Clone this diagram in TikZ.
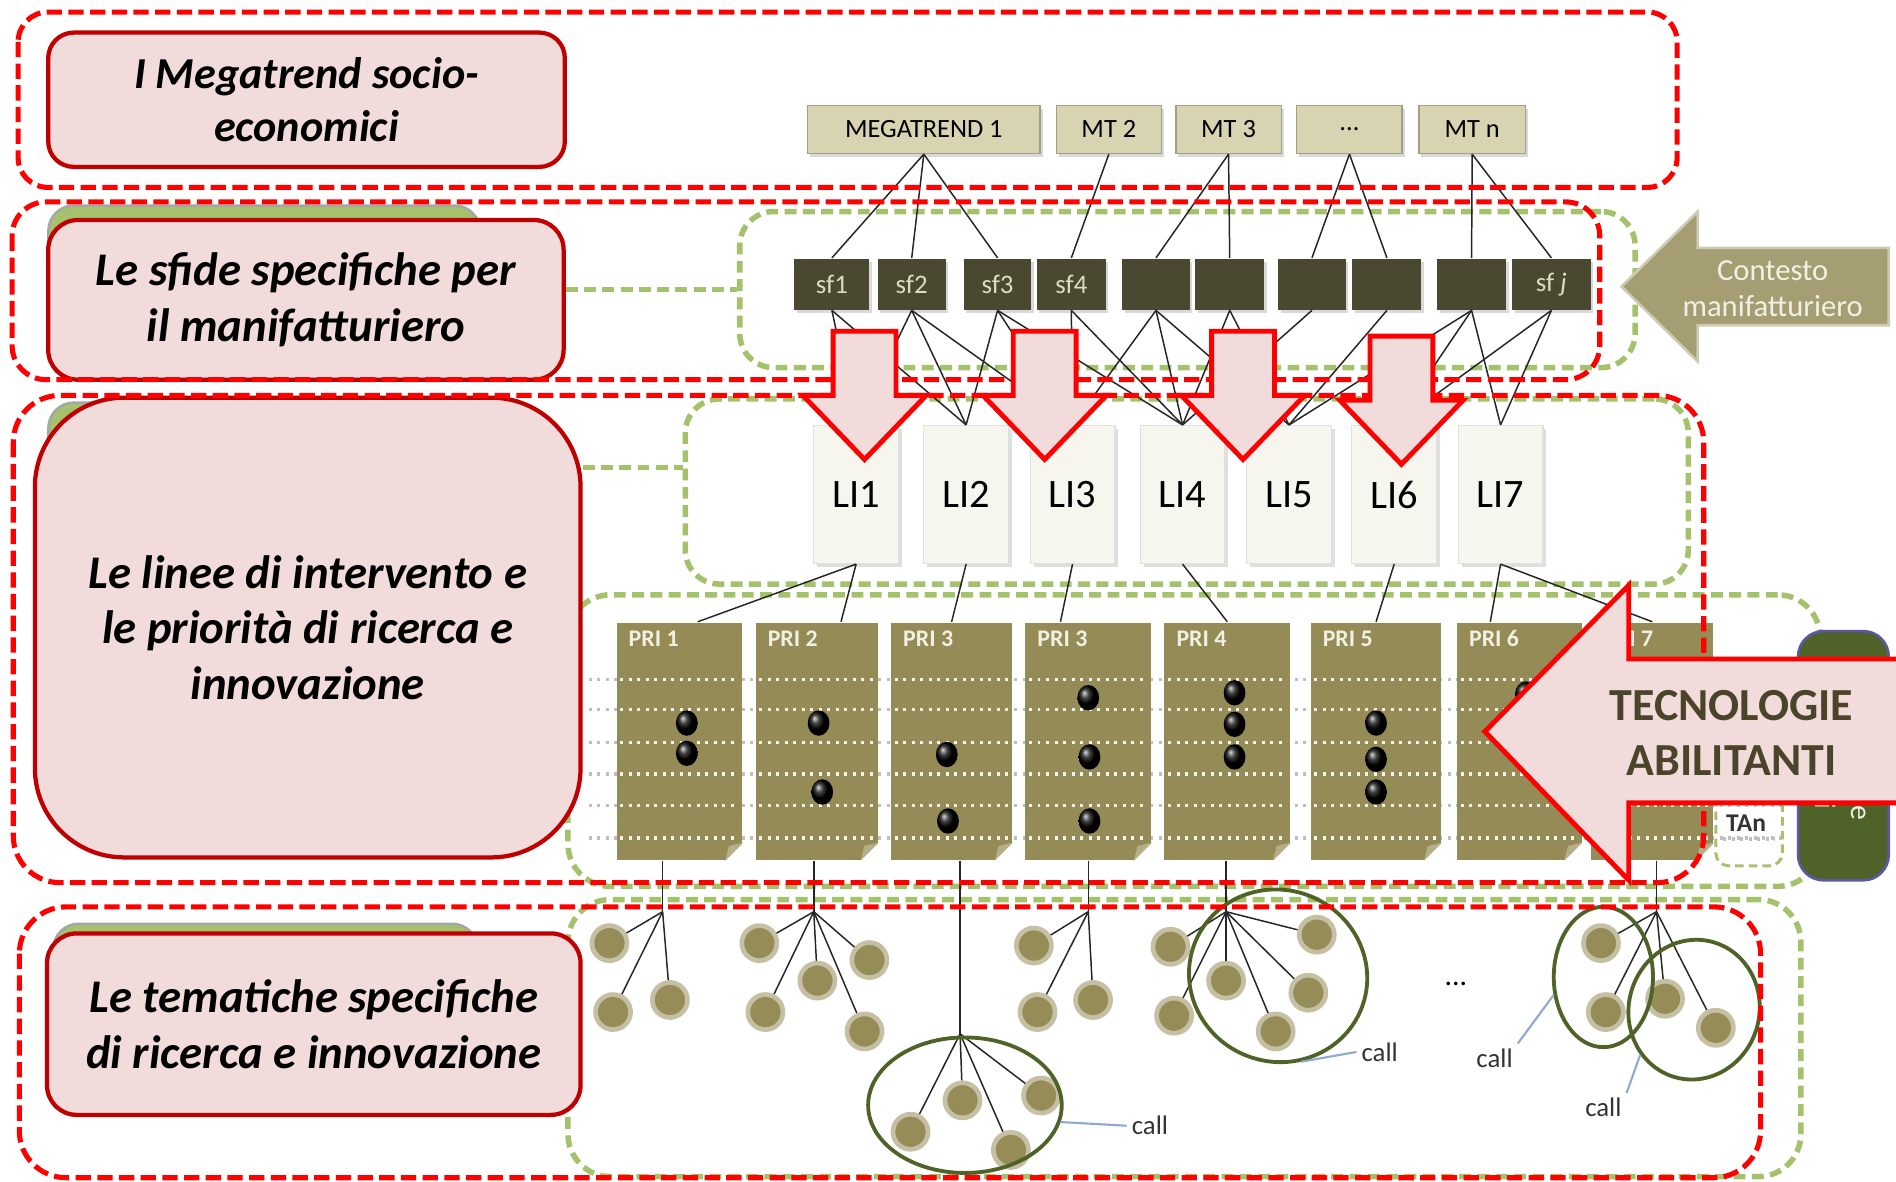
\documentclass[tikz,border=0pt]{standalone}
\usepackage{fontspec}
\setmainfont{Carlito}
\usepackage{tikz}
\usetikzlibrary{shapes.geometric, shadows}
\definecolor{pinkfill}{HTML}{F2DCDB}
\definecolor{darkred}{HTML}{C00000}
\definecolor{redline}{HTML}{FF0000}
\definecolor{greenline}{HTML}{A4C26C}
\definecolor{mtfill}{HTML}{D8D4B2}
\definecolor{sffill}{HTML}{4B4831}
\definecolor{sftext}{HTML}{DDDAC6}
\definecolor{lifill}{HTML}{F7F6EE}
\definecolor{prifill}{HTML}{958B56}
\definecolor{pritext}{HTML}{F2F0E2}
\definecolor{topicfill}{HTML}{968C58}
\definecolor{ringgreen}{HTML}{4F6228}
\definecolor{callblue}{HTML}{8EAACC}
\definecolor{contesto}{HTML}{A59E73}
\definecolor{tecnotext}{HTML}{4A452A}

\begin{document}
\begin{tikzpicture}[x=0.01cm, y=-0.01cm,
    redbox/.style={draw=redline, line width=1.2pt, dash pattern=on 3.6pt off 1.5pt},
    greenbox/.style={draw=greenline, line width=1.3pt, dash pattern=on 2.8pt off 1.5pt, rounded corners=8pt, inner sep=0},
    sectionbox/.style={draw=darkred, line width=1pt, fill=pinkfill, align=center, inner sep=0,
        font=\fontsize{11}{13}\selectfont\bfseries\itshape},
    backtab/.style={draw=black!35, line width=0.6pt, fill=greenline, rounded corners=6pt},
    mtbox/.style={draw=mtfill!75!black, line width=0.3pt, fill=mtfill, minimum height=0.4cm, inner sep=0,
        drop shadow={shadow xshift=0.6pt, shadow yshift=-0.8pt, opacity=0.3},
        font=\fontsize{6.2}{7}\selectfont},
    sfbox/.style={fill=sffill, minimum height=0.42cm, inner sep=0, text=sftext,
        drop shadow={shadow xshift=0.6pt, shadow yshift=-0.8pt, opacity=0.3},
        font=\fontsize{6.3}{7}\selectfont},
    libox/.style={draw=black!12, line width=0.3pt, fill=lifill, minimum width=0.70cm, minimum height=1.14cm,
        inner sep=0, drop shadow={shadow xshift=0.8pt, shadow yshift=-0.8pt, opacity=0.25},
        font=\fontsize{9.5}{10}\selectfont},
    pridoc/.style={fill=prifill, minimum height=1.96cm, inner sep=0},
    prilabel/.style={text=pritext, inner sep=0, font=\fontsize{5.6}{6}\selectfont\bfseries},
    dotrow/.style={line width=0.8pt, dash pattern=on 0.7pt off 1.3pt},
    link/.style={black!85, line width=0.35pt},
    topic/.style={circle, fill=topicfill, draw=topicfill!55!white, line width=1.1pt, minimum size=0.29cm, inner sep=0},
    callring/.style={ellipse, draw=ringgreen, line width=0.9pt, inner sep=0},
    callline/.style={callblue, line width=0.5pt},
    calltext/.style={inner sep=1pt, text=black!80, font=\fontsize{6.3}{7}\selectfont},
    bigarrow/.style={draw=redline, line width=1.15pt, fill=pinkfill, line join=miter}
]
\useasboundingbox (0,0) rectangle (1568,977);

% green containers
\node[greenbox, minimum width=7.40cm, minimum height=1.29cm] (g1) at (982,239.5) {};
\node[greenbox, minimum width=8.29cm, minimum height=1.53cm] (g2) at (981.5,406.5) {};
\node[greenbox, minimum width=10.35cm, minimum height=2.41cm, rounded corners=10pt] (g3) at (987.5,612.5) {};
\node[greenbox, minimum width=10.19cm, minimum height=2.29cm, rounded corners=10pt] (g4) at (979.5,858.5) {};

% tabs behind the section boxes
\fill[backtab] (40,170) rectangle (397,290);
\fill[backtab] (40,333) rectangle (397,500);
\fill[backtab] (44,764) rectangle (395,880);

% section boxes
\node[sectionbox, minimum width=4.27cm, minimum height=1.11cm, rounded corners=6pt,
    font=\fontsize{10.4}{12.3}\selectfont\bfseries\itshape] (lb1) at (253.5,82.5) {I Megatrend socio-\\economici};
\node[sectionbox, minimum width=4.26cm, minimum height=1.32cm, rounded corners=7pt] (lb2) at (253,248) {Le sfide specifiche per\\il manifatturiero};
\node[sectionbox, minimum width=4.51cm, minimum height=3.80cm, rounded corners=21pt] (lb3) at (254.5,519) {Le linee di intervento e\\le priorità di ricerca e\\innovazione};
\node[sectionbox, minimum width=4.41cm, minimum height=1.50cm, rounded corners=7pt] (lb4) at (259.5,847) {Le tematiche specifiche\\di ricerca e innovazione};

% dashed green links
\coordinate (k2) at ([yshift=0.2cm]g2.west);
\draw[greenbox] (g1.west -| lb2.east) -- (g1.west);
\draw[greenbox] (k2 -| lb3.east) -- (k2);

% megatrends
\node[mtbox, minimum width=1.92cm] (mt1) at (764,107) {MEGATREND 1};
\node[mtbox, minimum width=0.87cm] (mt2) at (917,107) {MT 2};
\node[mtbox, minimum width=0.87cm] (mt3) at (1016,107) {MT 3};
\node[mtbox, minimum width=0.87cm] (mtd) at (1116,107) {...};
\node[mtbox, minimum width=0.88cm] (mtn) at (1217.5,107) {MT n};

% sfide
\foreach \n/\x/\w/\t in {1/688/0.62/sf1, 2/754/0.56/sf2, 3/825/0.56/sf3, 4/886/0.57/sf4,
    5/956/0.56/{}, 6/1017/0.57/{}, 7/1085/0.56/{}, 8/1147/0.57/{}, 9/1217/0.57/{}, 10/1283/0.65/{sf \textit{j}}}
    \node[sfbox, minimum width=\w cm] (sf\n) at (\x,235) {\t};

% linee di intervento
\foreach \n/\x in {1/708, 2/799, 3/887, 4/978, 5/1066, 6/1153, 7/1241}
    \node[libox] (li\n) at (\x,409) {LI\n};

\foreach \a/\b in {mt1/1, mt1/2, mt1/3, mt2/4, mt3/5, mt3/6, mtd/7, mtd/8, mtn/9, mtn/10}
    \draw[link] (\a.south) -- (sf\b.north);
\foreach \a/\b in {1/1, 1/2, 2/1, 2/2, 2/3, 3/2, 3/3, 3/4, 4/3, 4/4, 5/3, 5/4, 5/5,
    6/4, 6/5, 7/4, 8/5, 9/5, 9/6, 9/7, 10/6, 10/7}
    \draw[link] (sf\a.south) -- (li\b.north);

% priorities
\foreach \y in {562,587,614,640,666,693}
    \draw[dotrow, black!25] (487,\y) -- (1478,\y);
\foreach \n/\x/\w/\t in {1/562/1.04/PRI 1, 2/675.5/1.01/PRI 2, 3/787/1.00/PRI 3, 4/900/1.04/PRI 3,
    5/1015/1.04/PRI 4, 6/1138/1.08/PRI 5, 7/1256.5/1.03/PRI 6, 8/1366.5/1.01/PRI 7} {
    \node[pridoc, minimum width=\w cm] (p\n) at (\x,613) {};
    \fill[white] (p\n.south east) -- ++(-0.15cm,0) -- ++(0.15cm,0.15cm) -- cycle;
    \fill[prifill!70!white] ([xshift=-0.15cm]p\n.south east) -- ++(0.15cm,0.15cm) -- ++(-0.12cm,-0.03cm) -- cycle;
    \foreach \y in {562,587,614,640,666,693}
        \draw[dotrow, white!90!prifill] ({\x-\w*50+3},\y) -- ({\x+\w*50-3},\y);
    \node[prilabel, anchor=west] (pl\n) at ([xshift=0.1cm, yshift=-0.14cm]p\n.north west) {\t};
}
\foreach \x/\y in {568/598, 568/623, 677/598, 680/655, 783/624, 784/679, 900/577, 901/626, 901/679,
    1021/573, 1021/599, 1021/626, 1138/598, 1138/628, 1138/655, 1262/574}
    \shade[ball color=black] (\x,\y) ellipse [x radius=0.09cm, y radius=0.105cm];

\draw[link] (li1.south) -- ([xshift=0.15cm]p1.north);
\draw[link] (li1.south) -- ([xshift=0.2cm]p2.north);
\draw[link] (li2.south) -- (p3.north);
\draw[link] (li3.south) -- ([xshift=-0.23cm]p4.north);
\draw[link] (li4.south) -- (p5.north);
\draw[link] (li6.south) -- (p6.north);
\draw[link] (li7.south) -- ([xshift=-0.24cm]p7.north);
\draw[link] (li7.south) -- (p8.north);

% tematiche
\coordinate (j1) at (548,754);
\coordinate (j2) at (673,754);
\coordinate (j3) at (794,855);
\coordinate (j4) at (900,754);
\coordinate (j5) at (1014,754);
\coordinate (j6) at (1370,754);
\foreach \n/\x/\y in {11/504/780, 12/507/837, 13/554/827,
    21/628/780, 22/633/837, 23/676/811, 24/719/794, 25/715/853,
    31/753/936, 32/796/910, 33/861/906, 34/836/951,
    41/855/782, 42/858/837, 43/904/827,
    51/968/783, 52/971/840, 53/1014/811, 54/1089/773, 55/1082/821, 56/1055/853,
    61/1324/780, 62/1328/837, 63/1377/826, 64/1419/850}
    \node[topic] (t\n) at (\x,\y) {};
\foreach \g/\p/\list in {1/1/{11,12,13}, 2/2/{21,22,23,24,25}, 3/3/{31,32,33,34},
    4/4/{41,42,43}, 5/5/{51,52,53,54,55,56}, 6/8/{61,62,63,64}} {
    \draw[link] (p\p.south -| j\g) -- (j\g);
    \foreach \t in \list
        \draw[link] (j\g) -- (t\t);
}

% calls
\node[callring, minimum width=1.60cm, minimum height=1.12cm] (e3) at (798,914) {};
\node[callring, minimum width=1.48cm, minimum height=1.42cm, rotate=-20] (e5) at (1057,807) {};
\node[callring, minimum width=0.82cm, minimum height=1.16cm] (e6a) at (1326,808) {};
\node[callring, minimum width=1.08cm, minimum height=1.16cm, rotate=-15] (e6b) at (1401,835) {};
\node[calltext] (c3) at (951,931) {call};
\node[calltext] (c5) at (1141,870) {call};
\node[calltext] (c6a) at (1236,875) {call};
\node[calltext] (c6b) at (1326,916) {call};
\draw[callline] (e3.-10) -- (c3.west);
\draw[callline] (e5.-55) -- (c5.west);
\draw[callline] (e6a.200) -- (c6a.north east);
\draw[callline] (e6b.235) -- (c6b.north east);
\node[font=\fontsize{7}{8}\selectfont] (more) at (1204,814) {...};

% enabling technologies
\node[draw=greenline, line width=0.7pt, dash pattern=on 2pt off 1.2pt, rounded corners=3pt,
    minimum width=0.55cm, minimum height=0.95cm, inner sep=0] (tabox) at (1446.5,668.5) {};
\node[font=\fontsize{6}{7}\selectfont\bfseries, text=black!80] (tan) at (1444,681) {TAn};
\draw[dotrow, black!25] (1425,694) -- (1468,694);
\node[draw=blue!30!gray, line width=0.6pt, fill=ringgreen, rounded corners=6pt,
    minimum width=0.75cm, minimum height=2.06cm, inner sep=0] (tbox) at (1524.5,625) {};
\node[rotate=-90, align=center, text=pritext, font=\fontsize{7}{8.5}\selectfont] (tboxtext) at (1524.5,625) {Tecnologie\\abilitanti};

% red dashed frames
\draw[redbox, rounded corners=7pt] (15,10) rectangle (1387,155);
\draw[redbox, rounded corners=8pt] (10,167) rectangle (1323,314);
\draw[redbox, rounded corners=11pt] (11,327) rectangle (1409,730);
\draw[redbox, rounded corners=11pt] (16,750) rectangle (1456,974);

% arrows
\foreach \cx/\dy in {715/0, 864/0, 1028/0, 1159/4}
    \draw[bigarrow] ({\cx-26},{274+\dy}) -- ({\cx+26},{274+\dy}) -- ({\cx+26},{327+\dy}) -- ({\cx+51},{327+\dy})
        -- (\cx,{380+\dy}) -- ({\cx-51},{327+\dy}) -- ({\cx-26},{327+\dy}) -- cycle;
\draw[bigarrow] (1228,605) -- (1347,484) -- (1347,545) -- (1585,545) -- (1585,664) -- (1347,664) -- (1347,728) -- cycle;
\node[text=tecnotext, align=center, font=\fontsize{10.8}{13}\selectfont\bfseries] (tec) at (1432,606) {TECNOLOGIE\\ABILITANTI};
\draw[draw=contesto!55!white, line width=0.6pt, fill=contesto] (1341,237) -- (1404,175) -- (1404,205) -- (1562,205)
    -- (1562,269) -- (1404,269) -- (1404,299) -- cycle;
\node[text=pritext, align=center, font=\fontsize{7.2}{8.5}\selectfont] (ctx) at (1466,239) {Contesto\\manifatturiero};
\end{tikzpicture}
\end{document}
